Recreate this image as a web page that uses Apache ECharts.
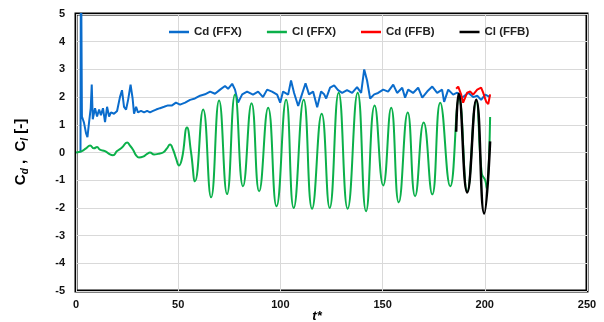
<!DOCTYPE html>
<html>
<head>
<meta charset="utf-8">
<script src="https://cdn.jsdelivr.net/npm/echarts@6/dist/echarts.min.js"></script>
<style>
html,body{margin:0;padding:0;background:#fff;}
#chart{width:604px;height:322px;}
</style>
</head>
<body>
<div id="chart"></div>
<script>
// ---- data ----
var xTicks = [0, 50, 100, 150, 200, 250];
var yTicks = [-5, -4, -3, -2, -1, 0, 1, 2, 3, 4, 5];
var seriesNames = ['Cd (FFX)', 'Cl (FFX)', 'Cd (FFB)', 'Cl (FFB)'];

var tCdFFX = [2.2, 2.4, 2.5, 2.9, 3.9, 4.9, 5.6, 6.4, 7.2, 7.7, 8.2, 9.3, 10.3, 11.3, 12.2, 13.2, 14.2, 15.2, 16.2, 17.1,
  18.6, 20.1, 21.5, 22.5, 23.5, 24.5, 25.5, 26.7, 27.7, 28.4, 29.4, 30.3, 31.8, 33.3, 34.8, 36.2, 37.7, 39.2, 41.1, 43.1,
  45.0, 47.0, 48.9, 50.9, 53.4, 55.8, 58.2, 60.7, 63.1, 65.6, 68.0, 70.5, 72.9, 74.4, 76.4, 77.8, 79.3, 81.3, 83.7, 86.6,
  89.1, 91.5, 93.5, 95.9, 98.4, 99.9, 101.3, 103.8, 105.2, 106.7, 108.7, 110.1, 112.3, 114.0, 116.0, 118.0, 119.9, 121.4, 122.4, 124.3,
  126.3, 128.2, 130.2, 132.6, 135.1, 137.5, 139.5, 141.0, 142.4, 143.9, 145.9, 147.8, 150.3, 152.7, 155.2, 157.1, 159.6, 161.0, 162.5, 164.9,
  167.4, 169.4, 171.8, 174.3, 176.7, 179.1, 180.1, 182.1, 184.5, 186.5, 188.9, 191.9, 194.3, 196.3, 198.2, 200.2, 202.6];
var cdFFX = [0.0, 8.0, 8.0, 1.3, 1.08, 0.7, 0.55, 1.1, 1.6, 2.45, 1.2, 1.6, 1.3, 1.55, 1.35, 1.6, 1.1, 1.65, 1.3, 1.45,
  1.4, 1.5, 2.0, 2.25, 1.65, 1.55, 1.9, 2.45, 1.95, 1.4, 1.65, 1.45, 1.5, 1.45, 1.5, 1.45, 1.5, 1.55, 1.6, 1.65,
  1.7, 1.7, 1.8, 1.73, 1.8, 1.9, 1.95, 2.05, 2.1, 2.2, 2.12, 2.27, 2.4, 2.3, 2.48, 2.27, 1.8, 2.1, 2.2, 2.09,
  2.2, 2.0, 2.27, 2.2, 2.09, 1.8, 2.2, 2.09, 2.6, 2.15, 1.68, 2.0, 2.5, 2.1, 2.2, 1.63, 2.2, 2.1, 1.95, 2.34,
  2.42, 2.25, 2.15, 2.25, 2.15, 2.36, 2.15, 3.0, 2.6, 1.95, 2.1, 2.15, 2.27, 2.2, 2.45, 2.15, 2.34, 1.98, 2.27, 2.15,
  2.34, 1.98, 2.2, 2.38, 2.15, 2.27, 1.83, 2.27, 2.09, 2.16, 1.98, 2.16, 2.0, 2.05, 1.9, 2.09, 2.0];

var tClFFX = [0, 2.9, 4.9, 6.9, 8.8, 10.3, 11.7, 14.2, 16.6, 18.1, 20.1, 22.5, 25.0, 26.4, 27.9, 29.4, 30.8, 32.8, 34.8, 36.2,
  38.2, 40.1, 42.6, 44.5, 46.0, 47.5, 48.9, 50.4, 51.9, 54.3, 56.3, 58.2, 62.2, 66.1, 70.0, 73.9, 77.8, 81.7, 85.9, 89.6,
  94.0, 98.1, 102.8, 106.5, 111.4, 115.5, 120.2, 124.1, 128.5, 132.9, 137.8, 141.9, 146.1, 150.3, 154.2, 157.9, 162.3, 165.9, 170.1, 174.3,
  178.2, 183.1, 187.4, 191.4, 195.8, 198.5, 200.2, 200.9, 202.6];
var clFFX = [0.0, 0.05, 0.15, 0.25, 0.15, 0.2, 0.1, 0.05, -0.07, -0.1, 0.05, 0.18, 0.36, 0.25, 0.1, -0.1, -0.18, -0.15, -0.05, 0.0,
  -0.07, -0.05, 0.0, 0.15, 0.29, 0.1, -0.2, -0.47, -0.2, 0.9, 0.0, -1.04, 1.55, -1.62, 1.88, -1.5, 2.09, -1.22, 1.78, -1.4,
  1.62, -1.94, 1.9, -2.0, 1.9, -2.03, 1.4, -2.0, 2.16, -2.03, 2.16, -2.12, 1.7, -1.19, 1.62, -1.8, 1.44, -1.58, 1.08, -1.51,
  1.8, -1.22, 1.95, -1.4, 1.85, -0.75, -1.0, -1.28, 1.28];

var tCdFFB = [186.0, 187.0, 188.4, 189.4, 191.4, 192.9, 194.3, 196.3, 198.2, 199.2, 200.7, 201.7, 202.6];
var cdFFB = [2.3, 2.38, 2.1, 1.8, 2.16, 2.2, 2.09, 2.27, 2.34, 2.16, 1.83, 1.75, 2.1];

var tClFFB = [186.0, 187.2, 191.4, 195.8, 199.7, 202.6];
var clFFB = [0.75, 2.12, -1.44, 1.9, -2.2, 0.4];

function pairs(t, v) { return t.map(function (x, i) { return [x, v[i]]; }); }

var FONT = '"Liberation Sans", Arial, sans-serif';
var LINE_ICON = 'path://M0,0 L20,0 L20,2.5 L0,2.5 Z';
var chart = echarts.init(document.getElementById('chart'), null, {renderer: 'canvas'});
chart.setOption({
  animation: false,
  backgroundColor: '#fff',
  grid: {left: 76, right: 17, top: 14, bottom: 31, show: true, borderColor: '#000', borderWidth: 3, backgroundColor: 'transparent'},
  legend: {
    data: seriesNames,
    left: 164, top: 21,
    itemWidth: 20, itemHeight: 2.5, itemGap: 25,
    icon: LINE_ICON,
    textStyle: {fontFamily: FONT, fontWeight: 'bold', fontSize: 11.5, color: '#222'}
  },
  xAxis: {
    type: 'value', min: xTicks[0], max: xTicks[xTicks.length - 1], interval: 50,
    axisLine: {show: false}, axisTick: {show: false},
    splitLine: {show: true, lineStyle: {color: '#d9d9d9', width: 1}},
    axisLabel: {fontFamily: FONT, fontWeight: 'bold', fontSize: 11, color: '#111', margin: 8}
  },
  yAxis: {
    type: 'value', min: yTicks[0], max: yTicks[yTicks.length - 1], interval: 1,
    axisLine: {show: false}, axisTick: {show: false},
    splitLine: {show: true, lineStyle: {color: '#d9d9d9', width: 1}},
    axisLabel: {fontFamily: FONT, fontWeight: 'bold', fontSize: 11, color: '#111', margin: 11}
  },
  series: [
    {name: seriesNames[0], type: 'line', data: pairs(tCdFFX, cdFFX), symbol: 'none', clip: true,
      lineStyle: {color: '#0a6ccc', width: 2}, itemStyle: {color: '#0a6ccc'}},
    {name: seriesNames[1], type: 'line', data: pairs(tClFFX, clFFX), symbol: 'none', smooth: 0.5, clip: true,
      lineStyle: {color: '#0bb04a', width: 2}, itemStyle: {color: '#0bb04a'}},
    {name: seriesNames[2], type: 'line', data: pairs(tCdFFB, cdFFB), symbol: 'none', clip: true,
      lineStyle: {color: '#ff0000', width: 2}, itemStyle: {color: '#ff0000'}},
    {name: seriesNames[3], type: 'line', data: pairs(tClFFB, clFFB), symbol: 'none', smooth: 0.5, clip: true,
      lineStyle: {color: '#000000', width: 2.5}, itemStyle: {color: '#000000'}}
  ],
  graphic: [
    {type: 'text', x: 21, y: 152, rotation: Math.PI / 2,
      style: {
        text: '{c|C}{s|d}{c| ,  C}{s|l}{c| [-]}',
        align: 'center', verticalAlign: 'middle',
        rich: {
          c: {fontFamily: FONT, fontWeight: 'bold', fontSize: 15, lineHeight: 18, fill: '#000', verticalAlign: 'middle'},
          s: {fontFamily: FONT, fontWeight: 'bold', fontStyle: 'italic', fontSize: 10, lineHeight: 12, fill: '#000', verticalAlign: 'bottom'}
        }
      }},
    {type: 'text', x: 317, y: 316,
      style: {text: 't*', font: 'italic bold 13px "Liberation Sans", Arial, sans-serif', fill: '#000', align: 'center', verticalAlign: 'middle'}}
  ]
});
</script>
</body>
</html>
